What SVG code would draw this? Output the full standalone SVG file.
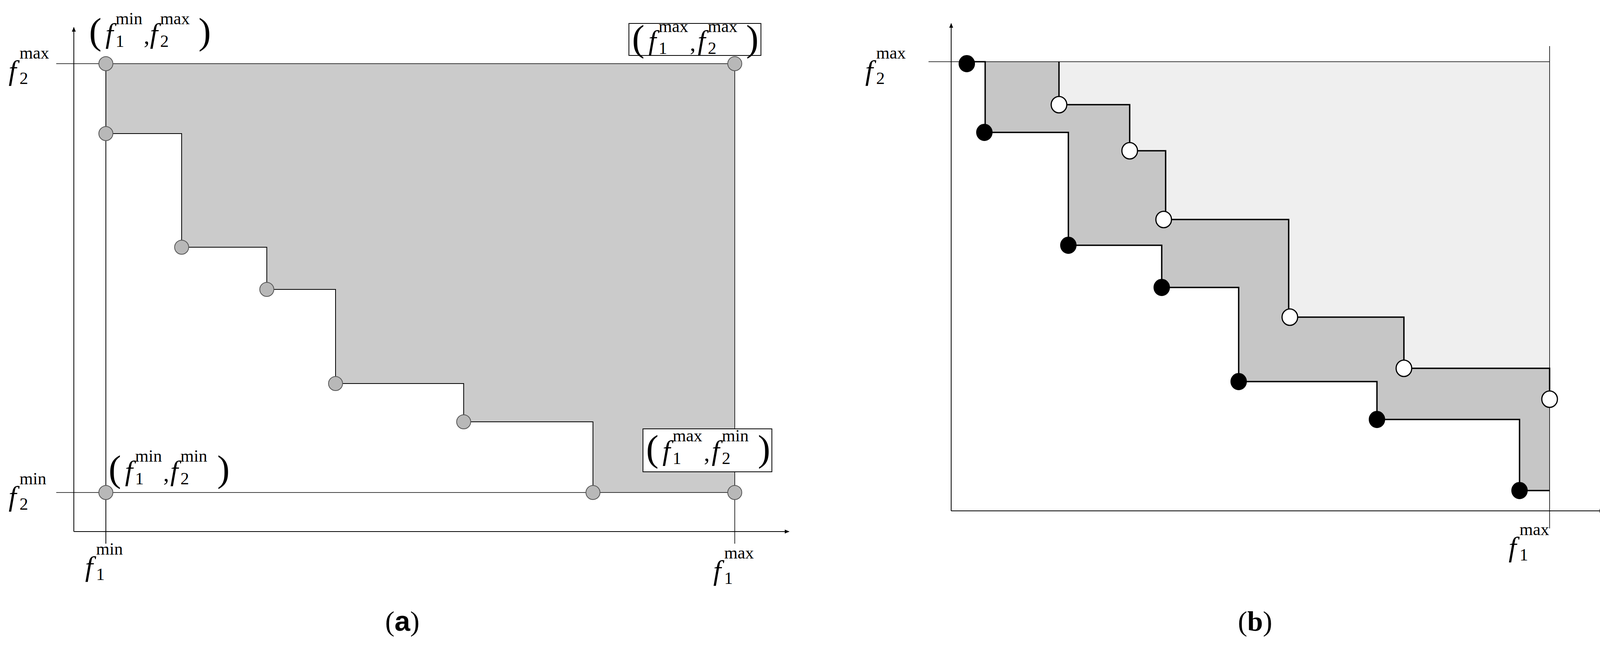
<svg xmlns="http://www.w3.org/2000/svg" width="4119" height="1654" viewBox="0 0 4119 1654">
<style>
.ax{stroke:#000;stroke-width:2;fill:none}
.thin{stroke:#000;stroke-width:1.6;fill:none}
.st{stroke:#000;stroke-width:3.5;fill:none}
.gp{fill:#b8b8b8;stroke:#555;stroke-width:2}
.bp{fill:#000;stroke:#000;stroke-width:2}
.wp{fill:#fff;stroke:#000;stroke-width:3}
.f{font-family:"Liberation Serif",serif;font-style:italic;font-size:72px}
.s{font-family:"Liberation Serif",serif;font-size:44px}
.p{font-family:"Liberation Serif",serif;font-size:96px}
.cap{font-family:"Liberation Serif",serif;font-size:72px}
</style>
<defs>
<marker id="ar" markerWidth="12" markerHeight="10" refX="11" refY="5" orient="auto" markerUnits="userSpaceOnUse"><path d="M0,0 L12,5 L0,10 z" fill="#000"/></marker>
</defs>
<g id="panel-a">
<polygon points="271,163 1881,163 1881,1261 1518,1261 1518,1080 1187,1080 1187,982 859,982 859,741 683,741 683,633 465,633 465,342 271,342" fill="#cbcbcb"/>
<g id="connectors-a">
<line class="ax" x1="189" y1="1361" x2="189" y2="70" marker-end="url(#ar)"/>
<line class="ax" x1="189" y1="1361" x2="2020" y2="1361" marker-end="url(#ar)"/>
<line class="thin" x1="144" y1="163" x2="1881" y2="163"/>
<line class="thin" x1="144" y1="1261" x2="1881" y2="1261"/>
<line class="thin" x1="1881" y1="163" x2="1881" y2="1392"/>
<line class="ax" x1="271" y1="163" x2="271" y2="1392"/>
<path class="ax" d="M271,342 H465 V633 H683 V741 H859 V982 H1187 V1080 H1518 V1261"/>
</g>
<g id="pts-a">
<circle class="gp" cx="271" cy="163" r="18"/>
<circle class="gp" cx="271" cy="342" r="18"/>
<circle class="gp" cx="465" cy="633" r="18"/>
<circle class="gp" cx="683" cy="741" r="18"/>
<circle class="gp" cx="859" cy="982" r="18"/>
<circle class="gp" cx="1187" cy="1080" r="18"/>
<circle class="gp" cx="1518" cy="1261" r="18"/>
<circle class="gp" cx="1881" cy="163" r="18"/>
<circle class="gp" cx="1881" cy="1261" r="18"/>
<circle class="gp" cx="271" cy="1261" r="18"/>
</g>
<g id="lbl-f2max-a"><text class="f" x="22" y="205">f</text><text class="s" x="50" y="215">2</text><text class="s" x="50" y="150">max</text></g>
<g id="lbl-f2min-a"><text class="f" x="22" y="1295">f</text><text class="s" x="50" y="1305">2</text><text class="s" x="50" y="1240">min</text></g>
<g id="lbl-f1min-a"><text class="f" x="218" y="1475">f</text><text class="s" x="246" y="1485">1</text><text class="s" x="246" y="1420">min</text></g>
<g id="lbl-f1max-a"><text class="f" x="1826" y="1485">f</text><text class="s" x="1854" y="1495">1</text><text class="s" x="1854" y="1430">max</text></g>
<g id="lbl-tl"><text class="p" x="228" y="112">(</text><text class="f" x="270" y="110">f</text><text class="s" x="296" y="120">1</text><text class="s" x="296" y="62">min</text><text class="p" x="368" y="112" style="font-size:60px">,</text><text class="f" x="384" y="110">f</text><text class="s" x="410" y="120">2</text><text class="s" x="410" y="62">max</text><text class="p" x="508" y="112">)</text></g>
<g id="lbl-tr"><rect x="1610" y="60" width="338" height="82" fill="#fff" stroke="#000" stroke-width="2"/><text class="p" x="1618" y="130">(</text><text class="f" x="1660" y="128">f</text><text class="s" x="1686" y="138">1</text><text class="s" x="1686" y="82">max</text><text class="p" x="1766" y="130" style="font-size:60px">,</text><text class="f" x="1786" y="128">f</text><text class="s" x="1812" y="138">2</text><text class="s" x="1812" y="82">max</text><text class="p" x="1910" y="130">)</text></g>
<g id="lbl-br"><rect x="1646" y="1098" width="330" height="110" fill="#fff" stroke="#000" stroke-width="2"/><text class="p" x="1654" y="1180">(</text><text class="f" x="1696" y="1178">f</text><text class="s" x="1722" y="1188">1</text><text class="s" x="1722" y="1130">max</text><text class="p" x="1802" y="1180" style="font-size:60px">,</text><text class="f" x="1822" y="1178">f</text><text class="s" x="1848" y="1188">2</text><text class="s" x="1848" y="1130">min</text><text class="p" x="1940" y="1180">)</text></g>
<g id="lbl-bl"><text class="p" x="278" y="1232">(</text><text class="f" x="320" y="1230">f</text><text class="s" x="346" y="1240">1</text><text class="s" x="346" y="1182">min</text><text class="p" x="418" y="1232" style="font-size:60px">,</text><text class="f" x="436" y="1230">f</text><text class="s" x="462" y="1240">2</text><text class="s" x="462" y="1182">min</text><text class="p" x="556" y="1232">)</text></g>
<text class="cap" x="1030" y="1615" text-anchor="middle">(<tspan font-family="Liberation Sans,sans-serif" font-weight="bold">a</tspan>)</text>
</g>
<g id="panel-b">
<polygon points="2711,158 3967,158 3967,943 3594,943 3594,812 3299,812 3299,562 2984,562 2984,386 2892,386 2892,268 2711,268" fill="#efefef"/>
<polygon points="2522,158 2711,158 2711,268 2892,268 2892,386 2984,386 2984,562 3299,562 3299,812 3594,812 3594,943 3967,943 3967,1256 3890,1256 3890,1074 3525,1074 3525,977 3171,977 3171,736 2974,736 2974,628 2735,628 2735,339 2522,339" fill="#c6c6c6"/>
<g id="connectors-b">
<line class="ax" x1="2435" y1="1308" x2="2435" y2="60" marker-end="url(#ar)"/>
<line class="ax" x1="2435" y1="1308" x2="4106" y2="1308" marker-end="url(#ar)"/>
<line class="thin" x1="2377" y1="158" x2="3967" y2="158"/>
<line class="thin" x1="3967" y1="118" x2="3967" y2="1353"/>
<path class="st" d="M2711,158 V268 H2892 V386 H2984 V562 H3299 V812 H3594 V943 H3967 V1022"/>
<path class="st" d="M2475,158 H2522 V339 H2735 V628 H2974 V736 H3171 V977 H3525 V1074 H3890 V1256 H3967"/>
</g>
<g id="pts-b">
<ellipse class="bp" cx="2475" cy="163" rx="20" ry="21"/>
<ellipse class="bp" cx="2520" cy="339" rx="20" ry="21"/>
<ellipse class="bp" cx="2735" cy="628" rx="20" ry="21"/>
<ellipse class="bp" cx="2974" cy="736" rx="20" ry="21"/>
<ellipse class="bp" cx="3171" cy="977" rx="20" ry="21"/>
<ellipse class="bp" cx="3525" cy="1074" rx="20" ry="21"/>
<ellipse class="bp" cx="3890" cy="1256" rx="20" ry="21"/>
<ellipse class="wp" cx="2711" cy="268" rx="20" ry="21"/>
<ellipse class="wp" cx="2892" cy="386" rx="20" ry="21"/>
<ellipse class="wp" cx="2979" cy="562" rx="20" ry="21"/>
<ellipse class="wp" cx="3302" cy="812" rx="20" ry="21"/>
<ellipse class="wp" cx="3594" cy="943" rx="20" ry="21"/>
<ellipse class="wp" cx="3967" cy="1022" rx="20" ry="21"/>
</g>
<g id="lbl-f2max-b"><text class="f" x="2215" y="205">f</text><text class="s" x="2243" y="215">2</text><text class="s" x="2243" y="150">max</text></g>
<g id="lbl-f1max-b"><text class="f" x="3862" y="1425">f</text><text class="s" x="3890" y="1435">1</text><text class="s" x="3890" y="1370">max</text></g>
<text class="cap" x="3213" y="1615" text-anchor="middle">(<tspan font-weight="bold">b</tspan>)</text>
</g>
</svg>
